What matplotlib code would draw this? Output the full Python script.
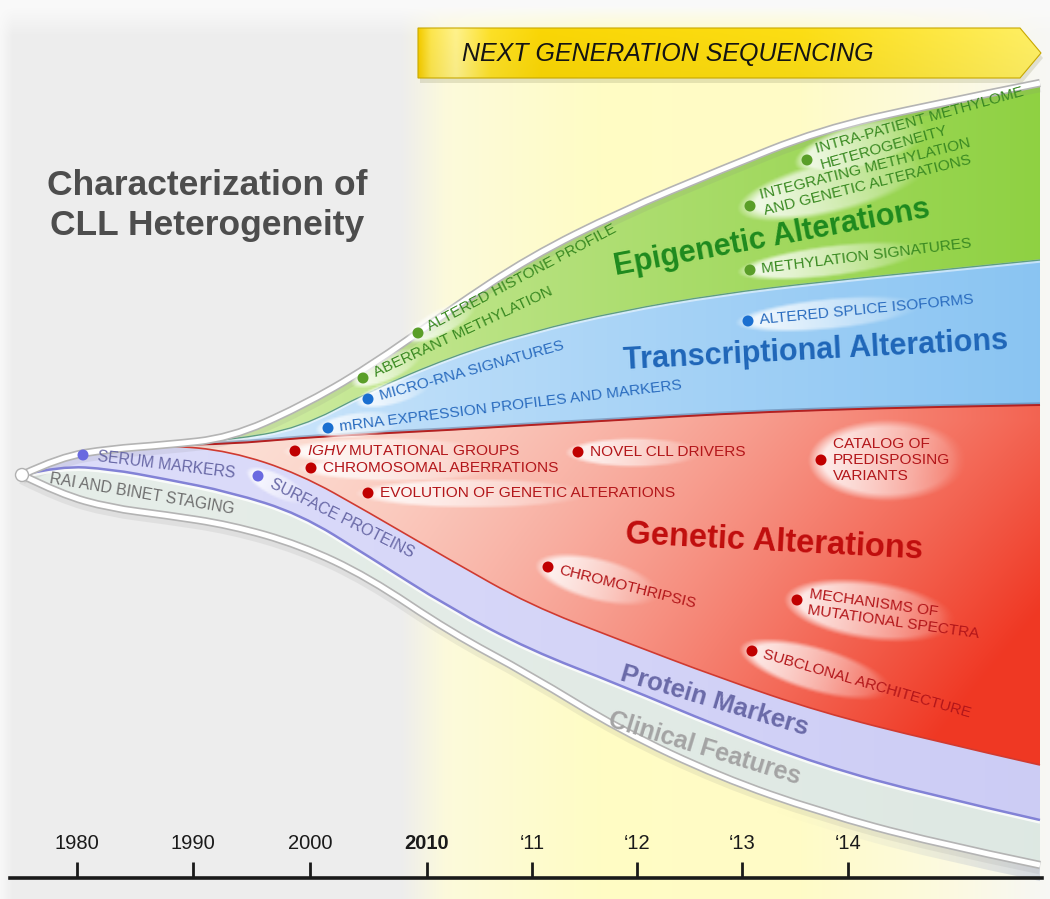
import numpy as np
import matplotlib
matplotlib.use('Agg')
import matplotlib.pyplot as plt
from matplotlib.path import Path
from matplotlib.patches import PathPatch, Circle, Polygon
from matplotlib import font_manager as fm
from matplotlib.transforms import offset_copy

plt.rcParams['font.family'] = ['Liberation Sans', 'DejaVu Sans']
plt.rcParams['mathtext.fontset'] = 'custom'
plt.rcParams['mathtext.it'] = 'Liberation Sans:italic'
plt.rcParams['mathtext.rm'] = 'Liberation Sans'

W, H = 1050, 899

# ---------------- data ----------------
tick_x = [77, 193, 310, 427, 532, 637, 742, 848]
tick_labels = ['1980', '1990', '2000', '2010', '\u201811', '\u201812', '\u201813', '\u201814']

title_lines = ['Characterization of', 'CLL Heterogeneity']
ngs_label = 'NEXT GENERATION SEQUENCING'

# stream boundaries (x positions and y positions, top to bottom)
bx        = [22, 60, 110, 165, 230, 300, 368, 450, 530, 620, 720, 820, 930, 1040]
b_epi_top = [475, 457, 449, 445, 438, 407, 368, 310, 257, 212, 170, 130, 105, 83]
b_epi_tr  = [475, 457, 449, 445, 440, 428, 392, 357, 332, 311, 294, 282, 271, 260]
b_tr_gen  = [475, 457, 449, 445, 444, 438, 434, 430, 425, 420, 414, 410, 407, 405]
b_gen_pro = [475, 457, 449, 445, 451, 474, 512, 560, 605, 640, 678, 712, 740, 765]
b_pro_cli = [475, 466, 469, 479, 492, 514, 556, 608, 650, 685, 727, 765, 795, 820]
b_cli_bot = [475, 494, 508, 515, 525, 545, 577, 632, 675, 730, 777, 812, 842, 865]

band_names = ['Epigenetic Alterations', 'Transcriptional Alterations', 'Genetic Alterations',
              'Protein Markers', 'Clinical Features']

item_labels = [
    'ALTERED HISTONE PROFILE', 'ABERRANT METHYLATION',
    'INTRA-PATIENT METHYLOME\nHETEROGENEITY', 'INTEGRATING METHYLATION\nAND GENETIC ALTERATIONS',
    'METHYLATION SIGNATURES',
    'ALTERED SPLICE ISOFORMS', 'MICRO-RNA SIGNATURES', 'mRNA EXPRESSION PROFILES AND MARKERS',
    r'$\mathit{IGHV}$ MUTATIONAL GROUPS', 'CHROMOSOMAL ABERRATIONS', 'EVOLUTION OF GENETIC ALTERATIONS',
    'NOVEL CLL DRIVERS', 'CATALOG OF\nPREDISPOSING\nVARIANTS', 'CHROMOTHRIPSIS',
    'MECHANISMS OF\nMUTATIONAL SPECTRA', 'SUBCLONAL ARCHITECTURE',
    'SERUM MARKERS', 'SURFACE PROTEINS', 'RAI AND BINET STAGING']
item_group = ['epi'] * 5 + ['tr'] * 3 + ['gen'] * 8 + ['pro'] * 2 + ['cli']
item_x = [418, 363, 807, 750, 750, 748, 368, 328, 295, 311, 368, 578, 821, 548, 797, 752, 83, 258, 50]
item_y = [333, 378, 160, 206, 270, 321, 399, 428, 451, 468, 493, 452, 460, 567, 600, 651, 455, 476, 479]
item_rot = [28, 25, 15.5, 14, 7, 5.5, 15.5, 7, 0, 0, 0, 0, 0, -14, -8, -16, -7, -26.5, -9.5]

# ---------------- styles ----------------
glow_len = [80, 80, 140, 200, 190, 190, 80, 90, 210, 200, 240, 140, 160, 130, 175, 160, 0, 70, 0]
glow_h = [26, 26, 46, 54, 32, 32, 24, 26, 28, 26, 30, 30, 82, 44, 60, 46, 0, 24, 0]
grp_text = {'epi': '#3a8a22', 'tr': '#2a6cbf', 'gen': '#b3161a', 'pro': '#6868a6', 'cli': '#6e6e6e'}
grp_dot = {'epi': '#5a9e28', 'tr': '#1a6fd0', 'gen': '#c00000', 'pro': '#6a6ae0', 'cli': None}


def has_font(name):
    try:
        fm.findfont(fm.FontProperties(family=name), fallback_to_default=False)
        return True
    except Exception:
        return False


NARROW = has_font('Liberation Sans Narrow')

fig = plt.figure(figsize=(W / 100, H / 100), dpi=100)
ax = fig.add_axes([0, 0, 1, 1])
ax.set_axis_off()

yy, xx = np.mgrid[0:H:2, 0:W:2].astype(float)


def lerp(c1, c2, t):
    c1 = np.array(c1)[None, None, :]
    c2 = np.array(c2)[None, None, :]
    return c1 + (c2 - c1) * t[..., None]


# background
bg_x = [0, 12, 400, 445, 600, 800, 950, 1035, 1050]
bg_r = [0.97, 0.93, 0.93, 0.99, 1.00, 1.00, 0.99, 0.97, 0.97]
bg_g = [0.97, 0.93, 0.93, 0.98, 0.99, 0.985, 0.98, 0.97, 0.97]
bg_b = [0.97, 0.93, 0.93, 0.86, 0.77, 0.78, 0.88, 0.95, 0.96]
bg = np.dstack([np.interp(xx, bg_x, bg_r), np.interp(xx, bg_x, bg_g), np.interp(xx, bg_x, bg_b)])
topfade = np.clip((yy - 5) / 30, 0, 1)[..., None]
bg = bg * topfade + 0.98 * (1 - topfade)
ax.imshow(bg, extent=(0, W, H, 0), origin='upper', interpolation='bilinear', zorder=0, aspect='auto')


def spline_verts(xs, ys):
    pts = list(zip(xs, ys))
    n = len(pts)
    verts = [pts[0]]
    for i in range(1, n - 1):
        c = pts[i]
        if i < n - 2:
            e = ((pts[i][0] + pts[i + 1][0]) / 2, (pts[i][1] + pts[i + 1][1]) / 2)
        else:
            e = pts[-1]
        verts += [c, e]
    return verts


def open_path(xs, ys):
    v = spline_verts(xs, ys)
    return Path(v, [Path.MOVETO] + [Path.CURVE3] * (len(v) - 1))


def band_path(xs, upper, lower):
    vu = spline_verts(xs, upper)
    vl = spline_verts(xs, lower)[::-1]
    verts = vu + vl + [vu[0]]
    codes = ([Path.MOVETO] + [Path.CURVE3] * (len(vu) - 1) + [Path.LINETO]
             + [Path.CURVE3] * (len(vl) - 1) + [Path.CLOSEPOLY])
    return Path(verts, codes)


def fill_gradient(path, img, z):
    im = ax.imshow(img, extent=(0, W, H, 0), origin='upper', interpolation='bilinear',
                   zorder=z, aspect='auto')
    patch = PathPatch(path, transform=ax.transData, facecolor='none', edgecolor='none')
    ax.add_patch(patch)
    im.set_clip_path(patch)


# arrow (NGS)
arrow_pts = [(418, 28), (1020, 28), (1041, 53), (1020, 78), (418, 78)]
shadow = Polygon([(p[0] + 2, p[1] + 5) for p in arrow_pts], closed=True, facecolor='#9a9a70',
                 edgecolor='none', alpha=0.25, zorder=1.5)
ax.add_patch(shadow)
ax_x = [418, 430, 455, 490, 540, 800, 1041]
ar_r = [0.96, 0.99, 1.00, 0.99, 0.98, 0.99, 1.00]
ar_g = [0.80, 0.90, 0.95, 0.88, 0.84, 0.87, 0.94]
ar_b = [0.00, 0.30, 0.55, 0.15, 0.02, 0.08, 0.40]
aimg = np.dstack([np.interp(xx, ax_x, ar_r), np.interp(xx, ax_x, ar_g), np.interp(xx, ax_x, ar_b)])
vfac = np.clip((yy - 28) / 50, 0, 1)[..., None]
aimg = aimg * (0.97 + 0.03 * (1 - vfac))
apatch = Polygon(arrow_pts, closed=True)
fill_gradient(apatch.get_path(), aimg, 2)
ax.add_patch(Polygon(arrow_pts, closed=True, facecolor='none', edgecolor='#c8a800', lw=0.8, zorder=2.2))
if NARROW:
    ax.text(462, 54, ngs_label, fontsize=21, style='italic', family='Liberation Sans Narrow',
            color='#141414', ha='left', va='center', zorder=3)
else:
    ax.text(462, 54, ngs_label, fontsize=18, style='italic', color='#141414',
            ha='left', va='center', zorder=3)

# shadow under the stream's lower edge, stronger at the right
sh_path = band_path(bx, b_cli_bot, [y + 16 for y in b_cli_bot])
sh_a = np.clip((xx - 760) / 280, 0, 1) ** 1.5 * 0.35 * np.clip((yy - 780) / 40, 0, 1)
sh_img = np.dstack([np.full_like(xx, 0.6), np.full_like(xx, 0.65), np.full_like(xx, 0.76), sh_a])
fill_gradient(sh_path, sh_img, 2.5)

# bands
tx = np.clip((xx - 190) / 850, 0, 1)
green_img = lerp((0.85, 0.94, 0.70), (0.56, 0.82, 0.26), tx ** 0.8)
blue_img = lerp((0.84, 0.92, 0.99), (0.54, 0.77, 0.95), tx ** 0.8)
txr = np.clip((xx - 170) / 870, 0, 1)
tyr = np.clip((yy - 420) / 340, 0, 1)
tr = np.clip(0.75 * txr ** 1.5 + 0.35 * tyr * txr + 0.1 * tyr, 0, 1)
red_img = lerp((0.99, 0.89, 0.85), (0.94, 0.22, 0.14), tr)
lav_img = lerp((0.86, 0.86, 0.98), (0.80, 0.80, 0.96), tx)
cli_img = lerp((0.90, 0.93, 0.91), (0.87, 0.91, 0.89), tx)

bounds = [b_epi_top, b_epi_tr, b_tr_gen, b_gen_pro, b_pro_cli, b_cli_bot]
imgs = [green_img, blue_img, red_img, lav_img, cli_img]
for i in range(5):
    fill_gradient(band_path(bx, bounds[i], bounds[i + 1]), imgs[i], 3)


def draw_line(ys, color, lw, z, dy=0, alpha=1.0):
    tr_ = ax.transData if dy == 0 else offset_copy(ax.transData, fig=fig, x=0, y=-dy, units='dots')
    ax.add_patch(PathPatch(open_path(bx, ys), facecolor='none', edgecolor=color, lw=lw,
                           zorder=z, transform=tr_, alpha=alpha, capstyle='butt'))


# inner boundaries
draw_line(b_epi_tr, '#ffffff', 2.5, 4, dy=1, alpha=0.5)
draw_line(b_epi_tr, '#5e9e80', 1.0, 4.1)
draw_line(b_tr_gen, '#404a70', 2.4, 4, dy=-1, alpha=0.35)
draw_line(b_tr_gen, '#b52020', 1.4, 4.1)
draw_line(b_gen_pro, '#d03a30', 1.2, 4.1)
draw_line(b_pro_cli, '#ffffff', 2.5, 4, dy=2, alpha=0.8)
draw_line(b_pro_cli, '#8282d6', 1.8, 4.1)
# envelope
for ys in (b_epi_top, b_cli_bot):
    draw_line(ys, '#808080', 9, 3.9, dy=3, alpha=0.12)
    draw_line(ys, '#b4b4b4', 6.0, 4.2)
    draw_line(ys, '#ffffff', 3.6, 4.3)

# origin
ax.add_patch(Circle((22, 475), 6.5, facecolor='white', edgecolor='#b0b0b0', lw=1.0, zorder=6))

# soft white glows behind item labels (one RGBA layer)
glow_alpha = np.zeros_like(xx)
for i in range(len(item_labels)):
    if glow_len[i] <= 0:
        continue
    x0, y0, r = item_x[i], item_y[i], np.radians(item_rot[i])
    dxv, dyv = np.cos(r), -np.sin(r)
    u = (xx - x0) * dxv + (yy - y0) * dyv
    v = -(xx - x0) * dyv + (yy - y0) * dxv
    L, hh = glow_len[i], glow_h[i]
    c = L / 2 - 14
    e = ((u - c) / (L / 2)) ** 2 + (v / (hh / 2)) ** 2
    inside = np.clip((1 - e) / 0.35, 0, 1)
    fade = np.clip(1 - (u + 14) / L, 0, 1) ** 0.75
    glow_alpha = np.maximum(glow_alpha, 0.92 * inside * fade)
glow_img = np.dstack([np.ones_like(xx), np.ones_like(xx), np.ones_like(xx), glow_alpha])
ax.imshow(glow_img, extent=(0, W, H, 0), origin='upper', interpolation='bilinear', zorder=5,
          aspect='auto')

# items
for i, lab in enumerate(item_labels):
    g = item_group[i]
    x0, y0, r = item_x[i], item_y[i], item_rot[i]
    d = np.array([np.cos(np.radians(r)), -np.sin(np.radians(r))])
    if grp_dot[g] is not None:
        ax.add_patch(Circle((x0, y0), 5.5, facecolor=grp_dot[g], edgecolor='none', zorder=6))
        tpos = np.array([x0, y0]) + d * (15 if g == 'pro' else 12)
    else:
        tpos = np.array([x0, y0])
    fs = 11.3 if g in ('pro', 'cli') else 11.1
    ax.text(tpos[0], tpos[1], lab, fontsize=fs, color=grp_text[g], rotation=r,
            rotation_mode='anchor', ha='left', va='center', multialignment='left',
            linespacing=1.22, zorder=7)

# band labels
band_cx = [772, 816, 774, 714, 705]
band_cy = [238, 351, 542, 701, 749]
band_rot = [10.5, 3, -3, -16.5, -17]
band_fs = [22, 22, 23.5, 18.5, 18]
band_col = ['#1e8a1e', '#1f66b8', '#c00d0d', '#6a6aa8', '#a4a4a4']
for i, nm in enumerate(band_names):
    ax.text(band_cx[i], band_cy[i], nm, fontsize=band_fs[i], fontweight='bold', color=band_col[i],
            rotation=band_rot[i], rotation_mode='anchor', ha='center', va='center', zorder=7)

# title
ax.text(207, 195, title_lines[0], fontsize=25.5, fontweight='bold', color='#4d4d4d',
        ha='center', va='baseline', zorder=7)
ax.text(207, 235, title_lines[1], fontsize=25.5, fontweight='bold', color='#4d4d4d',
        ha='center', va='baseline', zorder=7)

ax.set_xlim(0, W)
ax.set_ylim(H, 0)

# timeline axis
line_y = 878
axb = fig.add_axes([0, 0, 1, (H - line_y) / H])
axb.set_facecolor('none')
axb.set_xlim(0, W)
axb.set_ylim(0, 1)
for s in ('left', 'right', 'bottom'):
    axb.spines[s].set_visible(False)
axb.spines['top'].set_bounds(10, 1042)
axb.spines['top'].set_linewidth(2.6)
axb.spines['top'].set_color('#1a1a1a')
axb.xaxis.tick_top()
axb.set_xticks(tick_x)
axb.set_xticklabels(tick_labels)
axb.set_yticks([])
axb.tick_params(axis='x', direction='out', length=11.5, width=2, color='#1a1a1a', pad=6.5,
                labelsize=14.5, labelcolor='#1a1a1a')
axb.get_xticklabels()[3].set_fontweight('bold')

fig.savefig('out.png', dpi=100)
